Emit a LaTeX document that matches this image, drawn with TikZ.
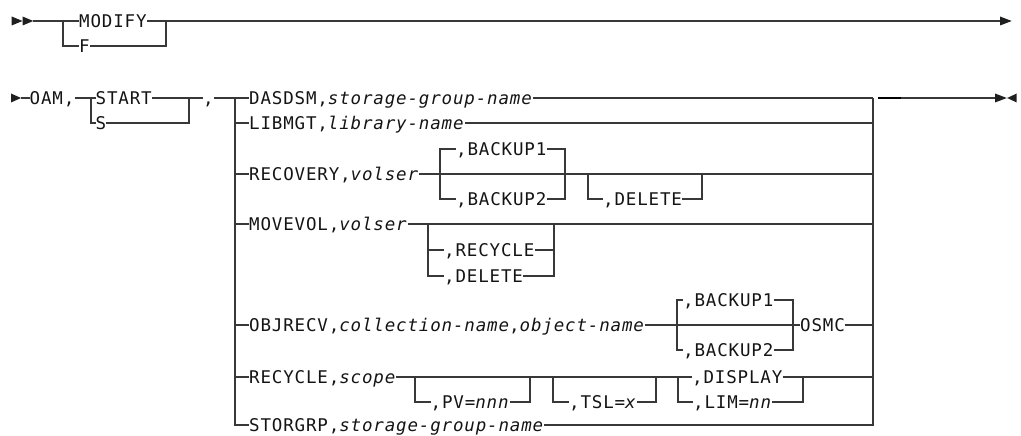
\documentclass[tikz,border=0pt]{standalone}
\usepackage{fontspec}
\newfontfamily\rr[LetterSpace=4.8]{DejaVu Sans Mono}
\begin{document}
\begin{tikzpicture}[x=1pt,y=-1pt,
  ln/.style={draw=black!78, line width=1.2pt},
  thick seg/.style={draw=black, line width=2.4pt},
  tx/.style={inner sep=0pt, anchor=west, text height=12.8pt, text depth=0pt,
    font=\rr\fontsize{17.5}{17.5}\selectfont, text=black!92},
  tip/.style={fill=black!88, draw=none}]
\useasboundingbox (0,0) rectangle (1021,436);

% ---------- row 1 ----------
\coordinate (a1) at (33.3,21);
\fill[tip] (11.7,16.5) -- (22.5,21) -- (11.7,25.5) -- cycle;
\fill[tip] (22.5,16.5) -- (33.3,21) -- (22.5,25.5) -- cycle;
\node[tx] (modify) at (79,21) {MODIFY};
\node[tx] (f) at (79,46) {F};
\coordinate (j1) at (63,21);
\coordinate (j2) at (166,21);
\coordinate (e1) at (1000,21);
\draw[ln] (a1) -- (modify.west);
\draw[ln] (modify.east) -- (e1);
\draw[ln] (j1) -- (j1|-f.west) -- (f.west);
\draw[ln] (f.east) -- (j2|-f.east) -- (j2);
\fill[tip] (1000,16.5) -- (1011.7,21) -- (1000,25.5) -- cycle;

% ---------- row 2 ----------
\fill[tip] (11,93.5) -- (21,98) -- (11,102.5) -- cycle;
\coordinate (a2) at (21,98);
\node[tx] (oam) at (29.5,98) {OAM,};
\node[tx] (start) at (95.5,98) {START};
\node[tx] (s) at (95.5,123) {S};
\coordinate (s1) at (91,98);
\coordinate (s2) at (189,98);
\node[tx] (comma) at (203,98) {,};
\coordinate (L) at (235,98);
\coordinate (R) at (873,98);
\draw[ln] (a2) -- (oam.west);
\draw[ln] (oam.east) -- (start.west);
\draw[ln] (start.east) -- (comma.west);
\draw[ln] (s1) -- (s1|-s.west) -- (s.west);
\draw[ln] (s.east) -- (s2|-s.east) -- (s2);

% trunk texts
\node[tx] (dasdsm) at (249,98) {DASDSM,\textit{storage-group-name}};
\node[tx] (libmgt) at (249,123) {LIBMGT,\textit{library-name}};
\node[tx] (recov) at (249,174) {RECOVERY,\textit{volser}};
\node[tx] (movevol) at (249,224) {MOVEVOL,\textit{volser}};
\node[tx] (obj) at (249,325) {OBJRECV,\textit{collection-name},\textit{object-name}};
\node[tx] (recyc) at (249,377) {RECYCLE,\textit{scope}};
\node[tx] (stor) at (249,425) {STORGRP,\textit{storage-group-name}};

\draw[ln] (comma.east) -- (dasdsm.west);
\draw[ln] (dasdsm.east) -- (R);
\draw[ln] (L) -- (L|-stor.west) -- (stor.west);
\draw[ln] (stor.east) -- (R|-stor.east) -- (R);
\foreach \n in {libmgt,recov,movevol,obj,recyc}
  \draw[ln] (L|-\n.west) -- (\n.west);
\draw[ln] (libmgt.east) -- (R|-libmgt.east);
\draw[ln] (recov.east) -- (R|-recov.east);
\draw[ln] (movevol.east) -- (R|-movevol.east);

% end of row 2
\coordinate (th1) at (878,98);
\coordinate (th2) at (900.7,98);
\coordinate (e2) at (995,98);
\draw[thick seg] (th1) -- (th2);
\draw[ln] (th2) -- (e2);
\fill[tip] (995,93.5) -- (1006.8,98) -- (995,102.5) -- cycle;
\fill[tip] (1016.7,93.5) -- (1007.2,98) -- (1016.7,102.5) -- cycle;

% ---------- RECOVERY ----------
\node[tx] (bk1) at (456,149) {,BACKUP1};
\node[tx] (bk2) at (456,199) {,BACKUP2};
\coordinate (b1l) at (440,174);
\coordinate (b1r) at (565,174);
\draw[ln] (bk1.west) -- (b1l|-bk1.west) -- (b1l|-bk2.west) -- (bk2.west);
\draw[ln] (bk1.east) -- (b1r|-bk1.east) -- (b1r|-bk2.east) -- (bk2.east);
\node[tx] (del1) at (603,199) {,DELETE};
\coordinate (d1l) at (588,174);
\coordinate (d1r) at (702,174);
\draw[ln] (d1l) -- (d1l|-del1.west) -- (del1.west);
\draw[ln] (del1.east) -- (d1r|-del1.east) -- (d1r);

% ---------- MOVEVOL ----------
\node[tx] (rcy) at (444,250) {,RECYCLE};
\node[tx] (del2) at (444,276) {,DELETE};
\coordinate (m1) at (428,224);
\coordinate (m2) at (554,224);
\draw[ln] (m1) -- (m1|-del2.west) -- (del2.west);
\draw[ln] (m1|-rcy.west) -- (rcy.west);
\draw[ln] (m2) -- (m2|-del2.east) -- (del2.east);
\draw[ln] (rcy.east) -- (m2|-rcy.east);

% ---------- OBJRECV ----------
\node[tx] (osmc) at (800,325) {OSMC};
\node[tx] (ob1) at (683,300) {,BACKUP1};
\node[tx] (ob2) at (683,350) {,BACKUP2};
\coordinate (o1) at (677,325);
\coordinate (o2) at (793,325);
\draw[ln] (obj.east) -- (osmc.west);
\draw[ln] (osmc.east) -- (R|-osmc.east);
\draw[ln] (ob1.west) -- (o1|-ob1.west) -- (o1|-ob2.west) -- (ob2.west);
\draw[ln] (ob1.east) -- (o2|-ob1.east) -- (o2|-ob2.east) -- (ob2.east);

% ---------- RECYCLE ----------
\node[tx] (pv) at (430.5,402) {,PV=\textit{nnn}};
\node[tx] (tsl) at (569,402) {,TSL=\textit{x}};
\node[tx] (disp) at (692,377) {,DISPLAY};
\node[tx] (lim) at (693,402) {,LIM=\textit{nn}};
\coordinate (p1) at (415,377);
\coordinate (p2) at (530,377);
\coordinate (t1) at (553,377);
\coordinate (t2) at (656,377);
\coordinate (q1) at (678,377);
\coordinate (q2) at (803,377);
\draw[ln] (recyc.east) -- (disp.west);
\draw[ln] (disp.east) -- (R|-disp.east);
\draw[ln] (p1) -- (p1|-pv.west) -- (pv.west);
\draw[ln] (pv.east) -- (p2|-pv.east) -- (p2);
\draw[ln] (t1) -- (t1|-tsl.west) -- (tsl.west);
\draw[ln] (tsl.east) -- (t2|-tsl.east) -- (t2);
\draw[ln] (q1) -- (q1|-lim.west) -- (lim.west);
\draw[ln] (lim.east) -- (q2|-lim.east) -- (q2);
\end{tikzpicture}
\end{document}
